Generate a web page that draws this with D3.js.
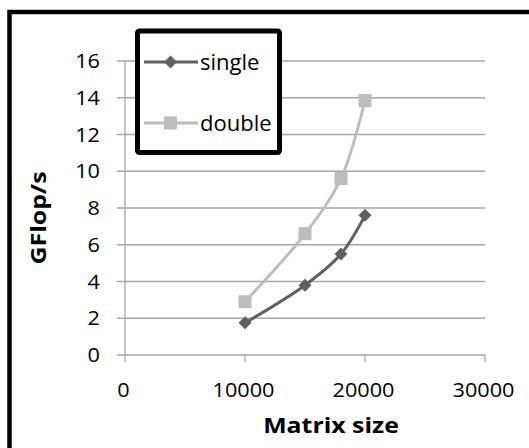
<!DOCTYPE html>
<html>
<head>
<meta charset="utf-8">
<script src="https://cdn.jsdelivr.net/npm/d3@7"></script>
<style>
  html, body { margin: 0; padding: 0; background: #fff; }
  svg { display: block; }
  text { font-family: "Open Sans", "Liberation Sans", sans-serif; fill: #000; }
</style>
</head>
<body>
<svg id="chart" width="529" height="448"></svg>
<script>
// Matrix sizes and measured throughput (GFlop/s)
const matrixSizes = [10000, 15000, 18000, 20000];
const singleGflops = [1.75, 3.8, 5.5, 7.6];
const doubleGflops = [2.9, 6.6, 9.6, 13.85];
const seriesNames = ["single", "double"];
const xTickValues = [0, 10000, 20000, 30000];
const yTickValues = [0, 2, 4, 6, 8, 10, 12, 14, 16];

const colors = { single: "#606060", double: "#bdbdbd" };

const svg = d3.select("#chart");

// Outer figure frame (right and bottom edges fall outside the canvas)
svg.append("path")
  .attr("d", "M9.5,600 V12 H600")
  .attr("fill", "none")
  .attr("stroke", "#000")
  .attr("stroke-width", 4.5);

const x = d3.scaleLinear().domain([0, 30000]).range([125, 485]);
const y = d3.scaleLinear().domain([0, 16]).range([355, 61]);

// Horizontal gridlines
svg.append("g")
  .selectAll("line")
  .data(yTickValues)
  .join("line")
  .attr("x1", 117).attr("x2", x(30000))
  .attr("y1", d => y(d)).attr("y2", d => y(d))
  .attr("stroke", "#a6a6a6").attr("stroke-width", 1.3);

// Y axis line
svg.append("line")
  .attr("x1", x(0)).attr("x2", x(0))
  .attr("y1", y(16)).attr("y2", y(0) + 7)
  .attr("stroke", "#a6a6a6").attr("stroke-width", 1.3);

// X axis ticks (drawn downward from the baseline)
svg.append("g")
  .selectAll("line")
  .data(xTickValues.slice(1))
  .join("line")
  .attr("x1", d => x(d)).attr("x2", d => x(d))
  .attr("y1", y(0)).attr("y2", y(0) + 7)
  .attr("stroke", "#a6a6a6").attr("stroke-width", 1.3);

// Y tick labels
svg.append("g")
  .selectAll("text")
  .data(yTickValues)
  .join("text")
  .attr("transform", d => `translate(100,${y(d) + 7}) scale(1.11,1)`)
  .attr("text-anchor", "end")
  .attr("font-size", 19.5)
  .text(d => d);

// X tick labels
svg.append("g")
  .selectAll("text")
  .data(xTickValues)
  .join("text")
  .attr("transform", d => `translate(${x(d) - 1.5},397) scale(1.11,1)`)
  .attr("text-anchor", "middle")
  .attr("font-size", 19.5)
  .text(d => d);

// Axis titles
svg.append("text")
  .attr("transform", "translate(331,433) scale(1.13,1)")
  .attr("text-anchor", "middle")
  .attr("font-size", 22)
  .attr("font-weight", "bold")
  .text("Matrix size");

svg.append("text")
  .attr("transform", "translate(46,218) rotate(-90) scale(1.13,1)")
  .attr("text-anchor", "middle")
  .attr("font-size", 22)
  .attr("font-weight", "bold")
  .text("GFlop/s");

// Smoothed series lines
const line = d3.line()
  .x(d => x(d[0]))
  .y(d => y(d[1]))
  .curve(d3.curveCatmullRom.alpha(0.5));

const series = [
  { name: "double", values: d3.zip(matrixSizes, doubleGflops), marker: "square" },
  { name: "single", values: d3.zip(matrixSizes, singleGflops), marker: "diamond" }
];

function drawMarker(g, shape, cx, cy, color) {
  if (shape === "square") {
    g.append("rect")
      .attr("x", cx - 6.5).attr("y", cy - 6.5)
      .attr("width", 13).attr("height", 13)
      .attr("fill", color);
  } else {
    const r = 6.5;
    g.append("path")
      .attr("d", `M${cx},${cy - r} L${cx + r},${cy} L${cx},${cy + r} L${cx - r},${cy} Z`)
      .attr("fill", color);
  }
}

series.forEach(s => {
  const g = svg.append("g");
  g.append("path")
    .attr("d", line(s.values))
    .attr("fill", "none")
    .attr("stroke", colors[s.name])
    .attr("stroke-width", 3)
    .attr("stroke-linejoin", "round");
  s.values.forEach(v => drawMarker(g, s.marker, x(v[0]), y(v[1]), colors[s.name]));
});

// Legend
const legend = svg.append("g");
legend.append("rect")
  .attr("x", 137.5).attr("y", 31)
  .attr("width", 142).attr("height", 121.5)
  .attr("rx", 2)
  .attr("fill", "#fff")
  .attr("stroke", "#000")
  .attr("stroke-width", 5);

const legendRows = [
  { name: seriesNames[0], marker: "diamond", cy: 62 },
  { name: seriesNames[1], marker: "square", cy: 123 }
];
legendRows.forEach(r => {
  legend.append("line")
    .attr("x1", 144).attr("x2", 198)
    .attr("y1", r.cy).attr("y2", r.cy)
    .attr("stroke", colors[r.name]).attr("stroke-width", 3);
  drawMarker(legend, r.marker, 170.5, r.cy, colors[r.name]);
  legend.append("text")
    .attr("transform", `translate(200,${r.cy + 7.5}) scale(1.05,1)`)
    .attr("font-size", 21)
    .text(r.name);
});
</script>
</body>
</html>
